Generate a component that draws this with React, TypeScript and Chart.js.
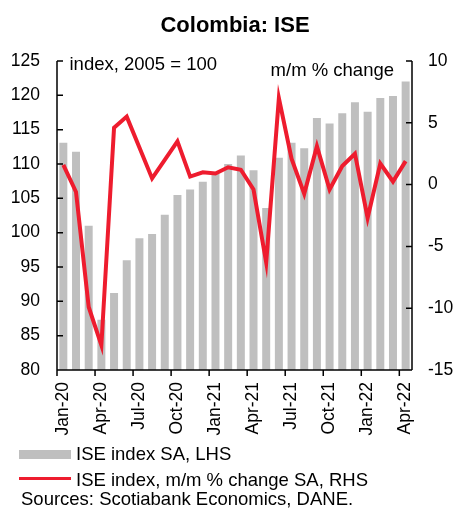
import React, { useEffect, useRef } from "react";
import { Chart, registerables } from "chart.js";

Chart.register(...registerables);

const months = [
  "Jan-20", "Feb-20", "Mar-20", "Apr-20", "May-20", "Jun-20", "Jul-20", "Aug-20", "Sep-20", "Oct-20", "Nov-20", "Dec-20",
  "Jan-21", "Feb-21", "Mar-21", "Apr-21", "May-21", "Jun-21", "Jul-21", "Aug-21", "Sep-21", "Oct-21", "Nov-21", "Dec-21",
  "Jan-22", "Feb-22", "Mar-22", "Apr-22",
];

const iseIndexSA = [
  113.1, 111.8, 101.0, 87.3, 91.2, 96.0, 99.2, 99.8, 102.6, 105.5, 106.3, 107.4,
  108.6, 110.0, 111.25, 109.1, 103.6, 110.9, 113.1, 112.3, 116.7, 115.9, 117.4, 119.0,
  117.6, 119.6, 119.9, 122.0,
];

const mmChangeSA = [
  1.6, -0.6, -9.9, -13.0, 4.6, 5.5, 3.0, 0.5, 2.0, 3.5, 0.65, 1.0,
  0.9, 1.4, 1.2, -0.4, -6.3, 7.0, 2.1, -0.75, 3.1, -0.4, 1.5, 2.5,
  -2.7, 1.7, 0.25, 1.9,
];

const FONT = "'Liberation Sans', Arial, Helvetica, sans-serif";
const BAR_COLOR = "#BFBFBF";
const LINE_COLOR = "#EE1C2E";

const axisPlugin = {
  id: "excelAxes",
  afterDatasetsDraw(chart: any) {
    const { ctx, chartArea } = chart;
    const { left, right, top, bottom } = chartArea;
    const x = chart.scales.x;
    const y = chart.scales.y;
    const y1 = chart.scales.y1;
    ctx.save();
    ctx.strokeStyle = "#000";
    ctx.lineWidth = 1.5;
    ctx.beginPath();
    ctx.moveTo(left, top);
    ctx.lineTo(left, bottom);
    ctx.moveTo(right, top);
    ctx.lineTo(right, bottom);
    ctx.moveTo(left, bottom);
    ctx.lineTo(right, bottom);
    y.ticks.forEach((t: any) => {
      const py = y.getPixelForValue(t.value);
      ctx.moveTo(left, py);
      ctx.lineTo(left + 6, py);
    });
    y1.ticks.forEach((t: any) => {
      const py = y1.getPixelForValue(t.value);
      ctx.moveTo(right, py);
      ctx.lineTo(right - 6, py);
    });
    const n = months.length;
    const cw = (right - left) / n;
    for (let i = 0; i < n; i += 3) {
      const px = x.getPixelForValue(i) - cw / 2;
      ctx.moveTo(px, bottom);
      ctx.lineTo(px, bottom + 6);
    }
    ctx.stroke();
    ctx.restore();
  },
};

export default function App() {
  const canvasRef = useRef<HTMLCanvasElement | null>(null);

  useEffect(() => {
    if (!canvasRef.current) return;
    Chart.defaults.font.family = FONT;
    const chart = new Chart(canvasRef.current, {
      type: "bar",
      data: {
        labels: months,
        datasets: [
          {
            type: "line",
            label: "ISE index, m/m % change SA, RHS",
            data: mmChangeSA,
            yAxisID: "y1",
            borderColor: LINE_COLOR,
            backgroundColor: LINE_COLOR,
            borderWidth: 4,
            pointRadius: 0,
            tension: 0,
            clip: false,
          } as any,
          {
            type: "bar",
            label: "ISE index SA, LHS",
            data: iseIndexSA,
            yAxisID: "y",
            backgroundColor: BAR_COLOR,
            barPercentage: 0.63,
            categoryPercentage: 1,
          },
        ],
      },
      options: {
        responsive: false,
        animation: false,
        events: [],
        layout: { padding: { top: 61, left: 0, right: 0, bottom: 0 } },
        plugins: {
          legend: { display: false },
          tooltip: { enabled: false },
          title: { display: false },
        },
        scales: {
          x: {
            type: "category",
            offset: true,
            grid: { display: false, drawTicks: false },
            border: { display: false },
            ticks: {
              autoSkip: false,
              maxRotation: 90,
              minRotation: 90,
              padding: 12,
              color: "#000",
              font: { size: 17.5, family: FONT },
              callback: (_v: any, i: number) => (i % 3 === 0 ? months[i] : ""),
            },
            afterFit: (s: any) => {
              s.height = 138;
            },
          },
          y: {
            position: "left",
            min: 80,
            max: 125,
            grid: { display: false, drawTicks: false },
            border: { display: false },
            ticks: {
              stepSize: 5,
              padding: 17,
              color: "#000",
              font: { size: 17.5, family: FONT },
            },
            afterFit: (s: any) => {
              s.width = 57;
            },
          },
          y1: {
            position: "right",
            min: -15,
            max: 10,
            grid: { display: false, drawTicks: false },
            border: { display: false },
            ticks: {
              stepSize: 5,
              padding: 16,
              color: "#000",
              font: { size: 17.5, family: FONT },
            },
            afterFit: (s: any) => {
              s.width = 42;
            },
          },
        },
      },
      plugins: [axisPlugin],
    });
    return () => chart.destroy();
  }, []);

  const text: React.CSSProperties = {
    position: "absolute",
    fontFamily: FONT,
    fontSize: "18.5px",
    lineHeight: "20px",
    color: "#000",
    whiteSpace: "nowrap",
  };

  return (
    <div style={{ position: "absolute", left: 0, top: 0, width: 454, height: 508, background: "#fff", overflow: "hidden" }}>
      <canvas ref={canvasRef} width={454} height={508} style={{ position: "absolute", left: 0, top: 0 }} />
      <div
        style={{
          ...text,
          fontSize: "22px",
          lineHeight: "24px",
          fontWeight: "bold",
          left: 235,
          top: 12.5,
          transform: "translateX(-50%)",
        }}
      >
        Colombia: ISE
      </div>
      <div style={{ ...text, left: 69.5, top: 54 }}>index, 2005 = 100</div>
      <div style={{ ...text, right: 454 - 394, top: 59.5 }}>m/m % change</div>
      <div style={{ position: "absolute", left: 19, top: 450, width: 52, height: 9, background: BAR_COLOR }} />
      <div style={{ ...text, left: 76, top: 443.7 }}>ISE index SA, LHS</div>
      <div style={{ position: "absolute", left: 19, top: 477, width: 52, height: 3, background: LINE_COLOR }} />
      <div style={{ ...text, left: 76, top: 469.5 }}>ISE index, m/m % change SA, RHS</div>
      <div style={{ ...text, left: 21, top: 488.5 }}>Sources: Scotiabank Economics, DANE.</div>
    </div>
  );
}
